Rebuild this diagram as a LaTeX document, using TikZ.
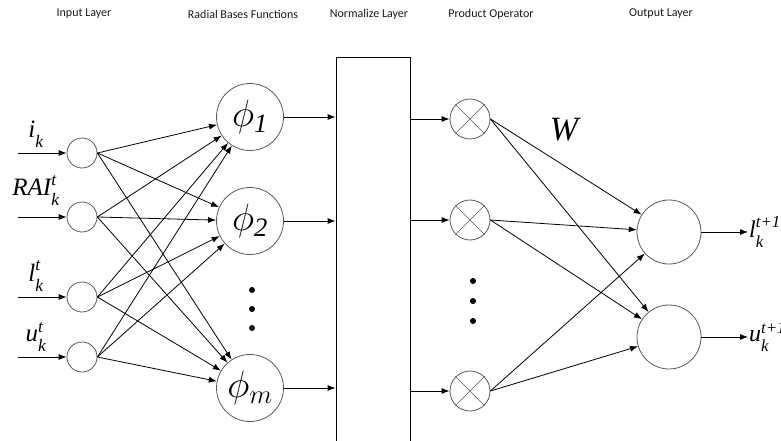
\documentclass[tikz,border=0pt]{standalone}
\usepackage{fix-cm}
\usepackage{amsmath}
\usepackage{fontspec}
\setmainfont{Liberation Serif}
\newfontfamily\headfont{Carlito}
\usetikzlibrary{arrows.meta}

\newcommand{\vlab}[3]{$\textit{#1}^{\textit{#2}}_{\raisebox{-4pt}{$\scriptstyle\textit{#3}$}}$}

\tikzset{
  neuron/.style={draw=black!65, circle, line width=0.8pt, inner sep=0pt},
  link/.style={line width=0.8pt, -{Latex[length=8pt,width=6pt]}},
  head/.style={font=\headfont\fontsize{12}{14}\selectfont, text=black!90},
  varlab/.style={font=\fontsize{25}{26}\selectfont},
  outlab/.style={font=\fontsize{24}{26}\selectfont, anchor=west, inner sep=1pt},
  phifont/.style={font=\fontsize{38}{38}\selectfont},
}

\begin{document}
\begin{tikzpicture}[x=1pt,y=-1pt]
    \clip (0,0) rectangle (781,441);

    % draw headings
    \node[head] (hin) at (84,14) {Input Layer};
    \node[head] (hrbf) at (243,14) {Radial Bases Functions};
    \node[head] (hnorm) at (369,14) {Normalize Layer};
    \node[head] (hprod) at (491,14) {Product Operator};
    \node[head] (hout) at (661,14) {Output Layer};

    % draw input layer
    \foreach \i/\y in {1/153,2/217,3/297,4/357} {
        \node[neuron, minimum size=30pt] (in\i) at (82,\y) {};
        \coordinate (src\i) at (18,\y);
        \draw[link] (src\i) -- (in\i);
    }
    \node[varlab] (lab1) at (36,134) {\vlab{i}{}{k}};
    \node[varlab] (lab2) at (36,191) {\vlab{RAI}{t}{k}};
    \node[varlab] (lab3) at (36,276) {\vlab{l}{t}{k}};
    \node[varlab] (lab4) at (36,337) {\vlab{u}{t}{k}};

    % draw radial basis nodes
    \node[neuron, minimum size=67pt, phifont] (phi1) at (250,117) {$\phi_{\mathit{1}}$};
    \node[neuron, minimum size=67pt, phifont] (phi2) at (250,221) {$\phi_{\mathit{2}}$};
    \node[neuron, minimum size=67pt, phifont] (phim) at (250,388) {$\phi_{m}$};
    \foreach \y in {290,309,328}
        \fill (252,\y) circle (3pt);

    % connect inputs to every basis node
    \foreach \i in {1,2,3,4}
        \foreach \j in {phi1,phi2,phim}
            \draw[link] (in\i.east) -- (\j);

    % draw normalize layer
    \node[draw, line width=0.8pt, minimum width=74pt, minimum height=400pt, anchor=north] (norm) at (373,57) {};
    \foreach \j in {phi1,phi2,phim}
        \draw[link] (\j.east) -- (norm.west |- \j.east);

    % draw product operators
    \foreach \k/\y in {1/119,2/220,3/391} {
        \node[neuron, minimum size=40pt] (prod\k) at (470,\y) {};
        \draw[black!65] (prod\k.45) -- (prod\k.225) (prod\k.135) -- (prod\k.315);
        \draw[link] (norm.east |- prod\k) -- (prod\k);
    }
    \foreach \y in {281,301,321}
        \fill (473,\y) circle (3pt);
    \node[font=\fontsize{34}{34}\selectfont\itshape] (wlab) at (564,130) {W};

    % draw output layer
    \node[neuron, minimum size=64pt] (out1) at (669,232) {};
    \node[neuron, minimum size=64pt] (out2) at (669,337) {};
    \foreach \k in {1,2,3}
        \foreach \o in {out1,out2}
            \draw[link] (prod\k.east) -- (\o);
    \coordinate (dst1) at (748,232);
    \coordinate (dst2) at (748,337);
    \draw[link] (out1) -- (dst1);
    \draw[link] (out2) -- (dst2);
    \node[outlab] (olab1) at (dst1) {\vlab{l}{t+1}{k}};
    \node[outlab] (olab2) at (dst2) {\vlab{u}{t+1}{k}};
\end{tikzpicture}
\end{document}
